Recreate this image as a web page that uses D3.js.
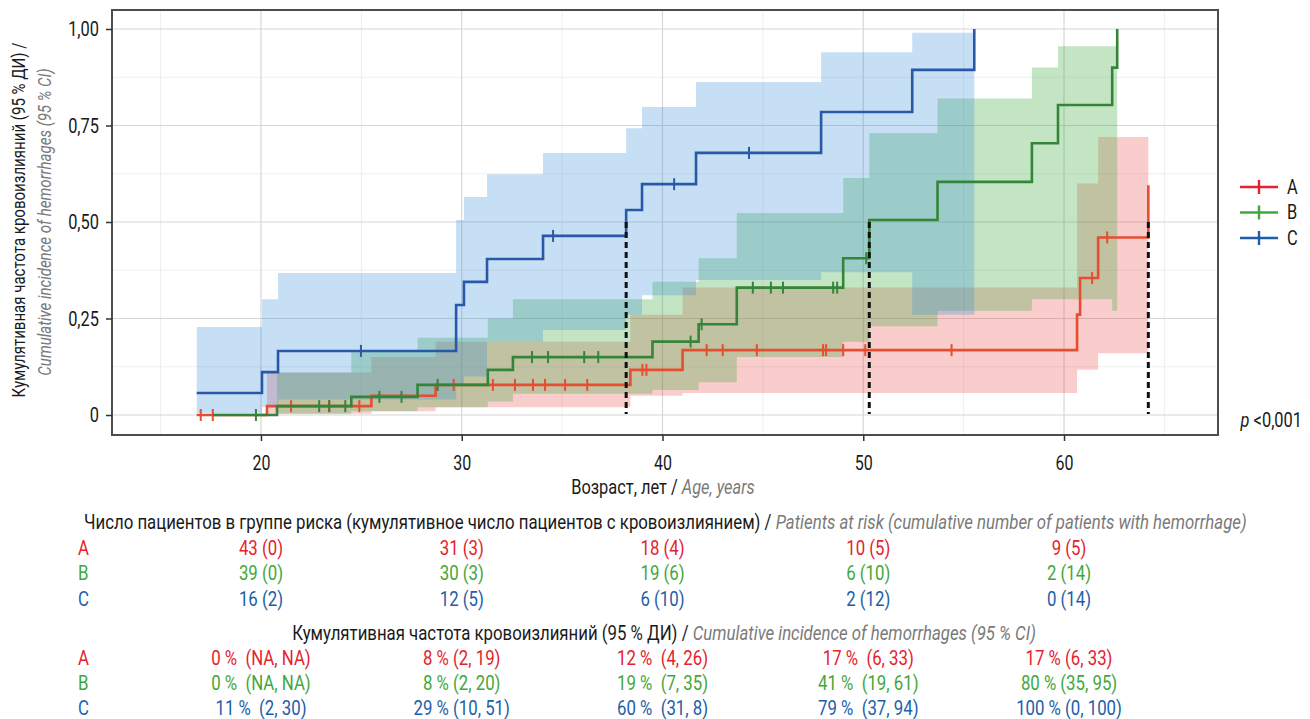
<!DOCTYPE html>
<html><head><meta charset="utf-8">
<script src="https://cdn.jsdelivr.net/npm/d3@7"></script>
<style>
body{margin:0;background:#fff;}
text{font-family:Roboto,"Noto Sans",sans-serif;}
</style></head><body>
<svg id="c" width="1310" height="719"></svg>
<script>
// ---------- data ----------
const groups = ["A", "B", "C"];

// Group A (red)
const aTime = [16.8, 20.3, 25.5, 28.7, 38.4, 41.0, 60.65, 60.8, 61.7, 64.2];
const aEst  = [0, 0.023, 0.05, 0.078, 0.117, 0.168, 0.26, 0.355, 0.46, 0.595];
const aLow  = [null, 0.003, 0.01, 0.02, 0.05, 0.057, 0.117, 0.117, 0.16, null];
const aUp   = [null, 0.11, 0.15, 0.19, 0.26, 0.33, 0.60, 0.60, 0.72, null];
const aCens = [17.0, 17.6, 21.5, 23.4, 24.9, 29.6, 31.55, 32.65, 33.55, 34.15, 35.15, 36.25, 39.0, 39.2, 42.2, 43.0, 44.7, 48.0, 48.15, 49.0, 50.1, 54.4, 61.4, 62.15];

// Group B (green)
const bTime = [17.6, 20.8, 24.5, 27.8, 31.3, 32.55, 39.5, 41.8, 43.7, 49.0, 50.3, 53.7, 58.4, 59.7, 62.4, 62.65];
const bEst  = [0, 0.023, 0.047, 0.078, 0.117, 0.15, 0.19, 0.235, 0.33, 0.406, 0.505, 0.604, 0.704, 0.803, 0.90, 1.0];
const bLow  = [null, 0.003, 0.01, 0.02, 0.035, 0.055, 0.065, 0.085, 0.15, 0.19, 0.23, 0.27, 0.30, 0.30, 0.27, null];
const bUp   = [null, 0.11, 0.165, 0.20, 0.25, 0.30, 0.345, 0.406, 0.523, 0.614, 0.73, 0.82, 0.90, 0.955, 0.955, null];
const bCens = [19.75, 22.9, 23.4, 24.2, 25.9, 27.0, 28.8, 33.5, 34.3, 36.1, 36.8, 41.4, 41.95, 44.5, 45.4, 46.0, 48.5, 48.7, 50.15];

// Group C (blue)
const cTime = [16.8, 20.05, 20.85, 29.72, 30.11, 31.26, 34.05, 38.19, 38.98, 41.67, 47.9, 52.44, 55.53];
const cEst  = [0.057, 0.111, 0.166, 0.285, 0.345, 0.404, 0.464, 0.531, 0.598, 0.679, 0.785, 0.894, 1.0];
const cLow  = [0.005, 0.02, 0.04, 0.08, 0.10, 0.19, 0.22, 0.26, 0.31, 0.35, 0.37, 0.26, null];
const cUp   = [0.228, 0.30, 0.368, 0.505, 0.565, 0.624, 0.679, 0.743, 0.798, 0.863, 0.94, 0.99, null];
const cCens = [24.98, 34.55, 40.58, 44.31];

const xTicks = [20, 30, 40, 50, 60];
const xMinor = [15, 25, 35, 45, 55, 65];
const yTicks = [0, 0.25, 0.5, 0.75, 1];
const yMinor = [0.125, 0.375, 0.625, 0.875];
const yTickLabels = ["0", "0,25", "0,50", "0,75", "1,00"];

const tableTimes = [20, 30, 40, 50, 60];
const riskA = ["43 (0)", "31 (3)", "18 (4)", "10 (5)", "9 (5)"];
const riskB = ["39 (0)", "30 (3)", "19 (6)", "6 (10)", "2 (14)"];
const riskC = ["16 (2)", "12 (5)", "6 (10)", "2 (12)", "0 (14)"];
const incA = ["0 %  (NA, NA)", "8 % (2, 19)", "12 %  (4, 26)", "17 %  (6, 33)", "17 % (6, 33)"];
const incB = ["0 %  (NA, NA)", "8 % (2, 20)", "19 %  (7, 35)", "41 %  (19, 61)", "80 % (35, 95)"];
const incC = ["11 %  (2, 30)", "29 % (10, 51)", "60 %  (31, 8)", "79 %  (37, 94)", "100 % (0, 100)"];

// ---------- setup ----------
const SX = 0.8;
const BLACK = "#1a1a1a", GREY = "#7a7a7a";
const svg = d3.select("#c");
const L = 112, R = 1218, T = 10, B = 435;
const x = d3.scaleLinear().domain([12.58, 67.67]).range([L, R]);
const y = d3.scaleLinear().domain([-0.0518, 1.0492]).range([B, T]);

const series = [
  {key: "A", time: aTime, est: aEst, low: aLow, up: aUp, cens: aCens, line: "#e64e30", fill: "rgba(235,60,60,0.26)", leg: "#e3232f", txt: "#e4222d", risk: riskA, inc: incA},
  {key: "B", time: bTime, est: bEst, low: bLow, up: bUp, cens: bCens, line: "#34853a", fill: "rgba(60,170,60,0.30)", leg: "#3fa83a", txt: "#3fa83a", risk: riskB, inc: incB},
  {key: "C", time: cTime, est: cEst, low: cLow, up: cUp, cens: cCens, line: "#2a58a8", fill: "rgba(50,140,215,0.28)", leg: "#1d5ea8", txt: "#1d5ea8", risk: riskC, inc: incC}
];

function label(parent, x0, y0, parts, opt = {}) {
  const size = opt.size || 18, anchor = opt.anchor || "start", sx = opt.sx || SX;
  const g = parent.append("g").attr("transform",
    `translate(${x0},${y0})${opt.rotate ? ` rotate(${opt.rotate})` : ""} scale(${sx},1)`);
  const t = g.append("text").attr("text-anchor", anchor).attr("dominant-baseline", "central")
    .attr("font-size", size).style("white-space", "pre");
  parts.forEach(p => t.append("tspan").text(p.t).attr("fill", p.c || BLACK)
    .attr("font-style", p.i ? "italic" : null));
  return g;
}

// ---------- grid ----------
const grid = svg.append("g");
grid.selectAll(".mx").data(xMinor).join("line").attr("x1", d => x(d)).attr("x2", d => x(d))
  .attr("y1", T).attr("y2", B).attr("stroke", "#ececec").attr("stroke-width", 0.9);
grid.selectAll(".my").data(yMinor).join("line").attr("y1", d => y(d)).attr("y2", d => y(d))
  .attr("x1", L).attr("x2", R).attr("stroke", "#ececec").attr("stroke-width", 0.9);
grid.selectAll(".gx").data(xTicks).join("line").attr("x1", d => x(d)).attr("x2", d => x(d))
  .attr("y1", T).attr("y2", B).attr("stroke", "#d6d6d6").attr("stroke-width", 1.2);
grid.selectAll(".gy").data(yTicks).join("line").attr("y1", d => y(d)).attr("y2", d => y(d))
  .attr("x1", L).attr("x2", R).attr("stroke", "#d6d6d6").attr("stroke-width", 1.2);

// ---------- bands ----------
const area = d3.area().curve(d3.curveStepAfter).x(d => x(d.t)).y0(d => y(d.lo)).y1(d => y(d.up));
series.forEach(s => {
  const rows = [];
  let last = -1;
  for (let i = 0; i < s.time.length - 1; i++) {
    if (s.low[i] != null) { rows.push({t: s.time[i], lo: s.low[i], up: s.up[i]}); last = i; }
  }
  rows.push({t: s.time[last + 1], lo: s.low[last], up: s.up[last]});
  svg.append("path").datum(rows).attr("d", area).attr("fill", s.fill);
});

// ---------- lines ----------
const line = d3.line().curve(d3.curveStepAfter).x(d => x(d.t)).y(d => y(d.e));
series.forEach(s => {
  const pts = s.time.map((t, i) => ({t, e: s.est[i]}));
  svg.append("path").datum(pts).attr("d", line).attr("fill", "none")
    .attr("stroke", s.line).attr("stroke-width", 2.6);
  svg.append("g").selectAll("line").data(s.cens).join("line")
    .attr("x1", d => x(d)).attr("x2", d => x(d))
    .attr("y1", d => y(s.est[d3.bisectRight(s.time, d) - 1]) - 6)
    .attr("y2", d => y(s.est[d3.bisectRight(s.time, d) - 1]) + 6)
    .attr("stroke", s.line).attr("stroke-width", 2);
});

// ---------- median lines ----------
series.forEach(s => {
  const i = s.est.findIndex(v => v >= 0.5);
  if (i < 0) return;
  svg.append("line").attr("x1", x(s.time[i])).attr("x2", x(s.time[i]))
    .attr("y1", y(0.5)).attr("y2", y(0) - 1)
    .attr("stroke", "#111").attr("stroke-width", 3).attr("stroke-dasharray", "6,4");
});

// ---------- panel border ----------
svg.append("rect").attr("x", L).attr("y", T).attr("width", R - L).attr("height", B - T)
  .attr("fill", "none").attr("stroke", "#4d4d4d").attr("stroke-width", 2);

// ---------- axes ----------
const xa = svg.append("g").attr("transform", `translate(0,${B})`)
  .call(d3.axisBottom(x).tickValues(xTicks).tickSize(6).tickPadding(15).tickFormat(d3.format("d")));
xa.select(".domain").remove();
xa.selectAll(".tick line").attr("stroke", "#333").attr("stroke-width", 1.5);
xa.selectAll("text").attr("font-size", 20).attr("fill", BLACK).attr("font-family", "Roboto")
  .attr("transform", `scale(${SX},1)`);

const ya = svg.append("g").attr("transform", `translate(${L},0)`)
  .call(d3.axisLeft(y).tickValues(yTicks).tickSize(6).tickFormat((d, i) => yTickLabels[i]));
ya.select(".domain").remove();
ya.selectAll(".tick line").attr("stroke", "#333").attr("stroke-width", 1.5);
ya.selectAll("text").attr("font-size", 20.5).attr("fill", BLACK).attr("font-family", "Roboto")
  .attr("x", -13 / SX).attr("transform", `scale(${SX},1)`);

// axis titles
label(svg, 663, 487, [{t: "Возраст, лет / "}, {t: "Age, years", c: GREY, i: true}], {anchor: "middle", size: 20.5});
label(svg, 18, 220, [{t: "Кумулятивная частота кровоизлияний (95 % ДИ) /"}], {anchor: "middle", size: 18.8, rotate: -90});
label(svg, 44, 222, [{t: "Cumulative incidence of hemorrhages (95 % CI)", c: GREY, i: true}], {anchor: "middle", size: 18.8, rotate: -90});

// p-value
label(svg, 1302, 420, [{t: "p", i: true}, {t: " <0,001"}], {anchor: "end", size: 20.5});

// ---------- legend ----------
const legY = d3.scalePoint().domain(groups).range([187, 238]);
series.forEach(s => {
  const g = svg.append("g");
  g.append("line").attr("x1", 1240).attr("x2", 1278).attr("y1", legY(s.key)).attr("y2", legY(s.key))
    .attr("stroke", s.leg).attr("stroke-width", 2.6);
  g.append("line").attr("x1", 1259).attr("x2", 1259).attr("y1", legY(s.key) - 7).attr("y2", legY(s.key) + 7)
    .attr("stroke", s.leg).attr("stroke-width", 2.4);
  label(svg, 1287, legY(s.key), [{t: s.key}], {size: 20.5});
});

// ---------- tables ----------
label(svg, 84, 521, [{t: "Число пациентов в группе риска (кумулятивное число пациентов с кровоизлиянием) / "},
  {t: "Patients at risk (cumulative number of patients with hemorrhage)", c: GREY, i: true}], {size: 21});
const row1 = d3.scalePoint().domain(groups).range([547, 598]);
series.forEach(s => {
  label(svg, 78, row1(s.key), [{t: s.key, c: s.txt}], {size: 21});
  tableTimes.forEach((t, i) => label(svg, x(t) + (t >= 50 ? 5 : 0), row1(s.key), [{t: s.risk[i], c: s.txt}], {anchor: "middle", size: 21}));
});

label(svg, 664, 632, [{t: "Кумулятивная частота кровоизлияний (95 % ДИ) / "},
  {t: "Cumulative incidence of hemorrhages (95 % CI)", c: GREY, i: true}], {anchor: "middle", size: 21});
const row2 = d3.scalePoint().domain(groups).range([657, 707]);
series.forEach(s => {
  label(svg, 78, row2(s.key), [{t: s.key, c: s.txt}], {size: 21});
  tableTimes.forEach((t, i) => label(svg, x(t) + (t >= 50 ? 5 : 0), row2(s.key), [{t: s.inc[i], c: s.txt}], {anchor: "middle", size: 21}));
});
</script>
</body></html>
